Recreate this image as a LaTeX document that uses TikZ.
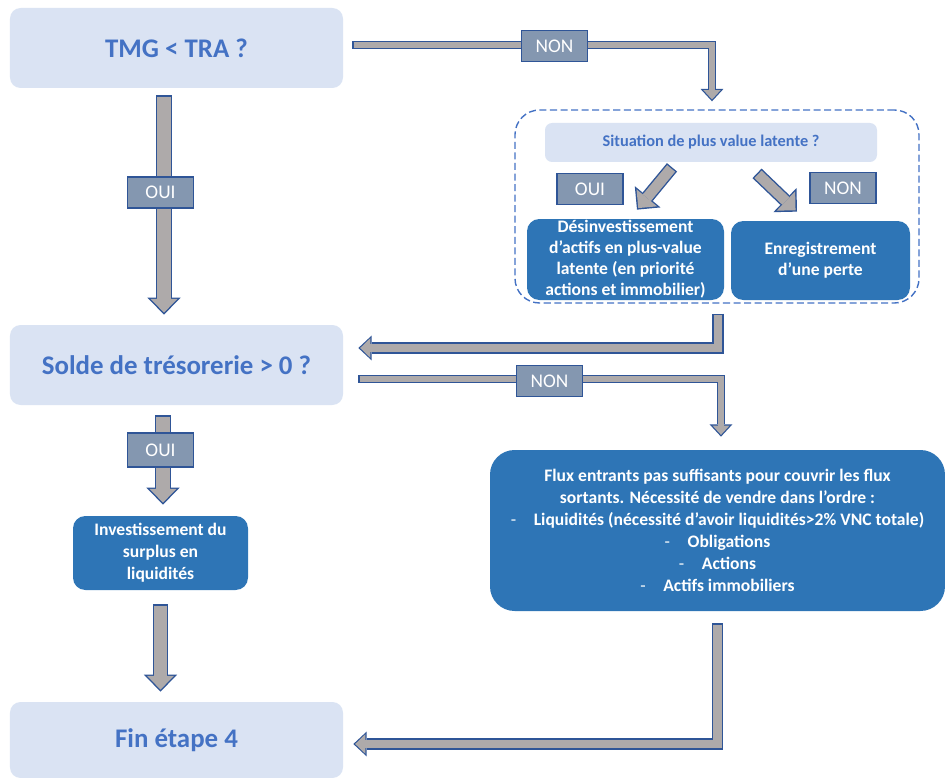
\documentclass[tikz,border=0pt]{standalone}
\usepackage{fontspec}
\setmainfont{Carlito}
\usepackage{tikz}
\usetikzlibrary{positioning, arrows.meta, calc}
\definecolor{lightFill}{RGB}{218, 227, 243}
\definecolor{lightText}{RGB}{68, 114, 196}
\definecolor{darkFill}{RGB}{46, 117, 182}
\definecolor{tagFill}{RGB}{132, 151, 176}
\definecolor{tagLine}{RGB}{47, 85, 151}
\definecolor{arrGray}{RGB}{174, 170, 170}
\definecolor{arrLine}{RGB}{47, 85, 151}
\definecolor{grpLine}{RGB}{68, 114, 196}

% block arrow: outline pass, then grey fill pass
\newcommand{\blkarrow}[2]{\draw[#1out] #2; \draw[#1in] #2;}

\begin{document}
\begin{tikzpicture}[
    lbox/.style={rectangle, rounded corners=6pt, fill=lightFill, text=lightText,
        font=\fontsize{15.3}{18}\selectfont\bfseries, minimum width=6.66cm, minimum height=1.6cm},
    dbox/.style={rectangle, rounded corners=7pt, fill=darkFill, text=white, inner sep=0pt,
        font=\fontsize{10}{11.9}\selectfont\bfseries, align=center},
    tag/.style={rectangle, draw=tagLine, line width=0.7pt, fill=tagFill, text=white,
        font=\fontsize{11}{13}\selectfont, minimum width=1.32cm, minimum height=0.62cm, inner sep=0pt},
    grp/.style={rectangle, rounded corners=14pt, draw=grpLine, dash pattern=on 4pt off 2pt,
        line width=0.8pt, minimum width=8.08cm, minimum height=3.86cm},
    bigout/.style={draw=arrLine, line join=miter, line width=9pt,
        -{Triangle[width=19pt, length=9.7pt, line width=0pt]}},
    bigin/.style={draw=arrGray, line join=miter, line width=7.4pt, shorten <=0.8pt, shorten >=1.15pt,
        -{Triangle[width=15.2pt, length=7.8pt, line width=0pt]}},
    diagout/.style={draw=arrLine, line join=miter, line width=7.5pt,
        -{Triangle[width=19pt, length=9.5pt, line width=0pt]}},
    diagin/.style={draw=arrGray, line join=miter, line width=5.9pt, shorten <=0.8pt, shorten >=1.15pt,
        -{Triangle[width=15.2pt, length=7.6pt, line width=0pt]}},
    midout/.style={draw=arrLine, line join=miter, line width=6.4pt,
        -{Triangle[width=14pt, length=7.5pt, line width=0pt]}},
    midin/.style={draw=arrGray, line join=miter, line width=5pt, shorten <=0.7pt, shorten >=1.05pt,
        -{Triangle[width=11.2pt, length=5.8pt, line width=0pt]}},
    thinout/.style={draw=arrLine, line join=miter, line width=5pt,
        -{Triangle[width=13pt, length=7pt, line width=0pt]}},
    thinin/.style={draw=arrGray, line join=miter, line width=3.6pt, shorten <=0.7pt, shorten >=1.03pt,
        -{Triangle[width=9.8pt, length=5.3pt, line width=0pt]}}
]
\useasboundingbox (0,0) rectangle (18.9,-15.56);

\node[lbox] (tmg)   at (3.53,-0.96)  {TMG < TRA ?};
\node[lbox] (solde) at (3.53,-7.30)  {Solde de trésorerie > 0 ?};
\node[lbox, minimum height=1.52cm] (fin) at (3.53,-14.80) {Fin étape 4};

\node[grp] (latente) at (14.34,-4.13) {};
\node[lbox, rounded corners=4pt, font=\fontsize{9.3}{11}\selectfont\bfseries,
    minimum width=6.64cm, minimum height=0.78cm] (sit) at (14.22,-2.85) {Situation de plus value latente ?};
\node[dbox, minimum width=3.94cm, minimum height=1.62cm] (desinv) at (12.51,-5.19)
    {Désinvestissement\\d’actifs en plus-value\\latente (en priorité\\actions et immobilier)};
\node[dbox, minimum width=3.58cm, minimum height=1.58cm, font=\fontsize{10}{12}\selectfont\bfseries] (enreg) at (16.41,-5.21)
    {Enregistrement\\d’une perte};

\node[dbox, minimum width=3.5cm, minimum height=1.48cm, font=\fontsize{10}{12.5}\selectfont\bfseries] (invest) at (3.21,-11.06)
    {Investissement du\\surplus en\\liquidités};
\node[dbox, rounded corners=14pt, minimum width=9.1cm, minimum height=3.22cm,
    font=\fontsize{10}{12.5}\selectfont\bfseries] (flux) at (14.35,-10.61)
    {Flux entrants pas suffisants pour couvrir les flux\\
     sortants. Nécessité de vendre dans l’ordre :\\
     {\mdseries -}\hspace{1em}Liquidités (nécessité d’avoir liquidités>2\% VNC totale)\\
     {\mdseries -}\hspace{1em}Obligations\\
     {\mdseries -}\hspace{1em}Actions\\
     {\mdseries -}\hspace{1em}Actifs immobiliers};

% connectors
\blkarrow{big}{($(tmg.south)+(-0.25,-0.14)$) -- ($(solde.north)+(-0.25,0.2)$)}
\blkarrow{thin}{($(tmg.east)+(0.18,0.06)$) -| ($(latente.north)+(-0.1,0.16)$)}
\blkarrow{diag}{($(sit.south)+(-0.78,-0.1)$) -- ($(desinv.north)+(0.23,0.18)$)}
\blkarrow{diag}{($(sit.south)+(0.92,-0.22)$) -- ($(enreg.north)+(-0.47,0.18)$)}
\blkarrow{mid}{($(latente.south)+(0.02,-0.2)$) |- ($(solde.east)+(0.3,0.34)$)}
\blkarrow{thin}{($(solde.east)+(0.3,-0.28)$) -| ($(flux.north)+(0.07,0.26)$)}
\blkarrow{big}{($(solde.south)+(-0.27,-0.2)$) -- ($(solde.south |- invest.north)+(-0.27,0.22)$)}
\blkarrow{big}{($(invest.south)+(0,-0.28)$) -- ($(invest.south |- fin.north)+(0,0.2)$)}
\blkarrow{mid}{($(flux.south)+(0,-0.24)$) |- ($(fin.east)+(0.2,-0.08)$)}

% labels on the arrows
\node[tag] (oui1) at (3.21,-3.85)  {OUI};
\node[tag] (non1) at (11.09,-0.92) {NON};
\node[tag] (oui2) at (11.80,-3.78) {OUI};
\node[tag] (non2) at (16.86,-3.76) {NON};
\node[tag] (non3) at (10.99,-7.62) {NON};
\node[tag, minimum height=0.68cm] (oui3) at (3.21,-9.00) {OUI};
\end{tikzpicture}
\end{document}
